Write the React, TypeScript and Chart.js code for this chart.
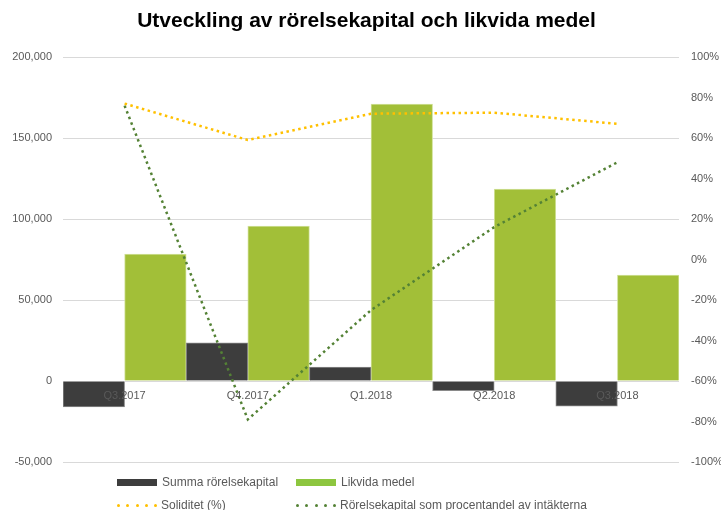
import React, { useEffect, useRef } from "react";
import { Chart, registerables } from "chart.js";

Chart.register(...registerables);

const categories = ["Q3.2017", "Q4.2017", "Q1.2018", "Q2.2018", "Q3.2018"];
const summaRorelsekapital = [-16000, 23500, 8600, -6000, -15500];
const likvidaMedel = [78400, 95700, 171000, 118500, 65400];
const soliditet = [77, 59, 72, 72.5, 67];
const rorelsekapitalProcent = [76, -79, -25, 16, 48];

const leftTicks = { min: -50000, max: 200000, step: 50000 };
const rightTicks = { min: -100, max: 100, step: 20 };

const TITLE = "Utveckling av rörelsekapital och likvida medel";

const DARK = "#3d3d3d";
const GREEN = "#a2bf38";
const YELLOW = "#ffc000";
const DGREEN = "#548235";
const TXT = "#595959";
const FAMILY = "'Liberation Sans', Arial, sans-serif";

const legendItems = [
  { label: "Summa rörelsekapital", color: DARK, kind: "bar", x: 117, y: 482 },
  { label: "Likvida medel", color: "#8dc63f", kind: "bar", x: 296, y: 482 },
  { label: "Soliditet (%)", color: YELLOW, kind: "dot", x: 117, y: 505 },
  { label: "Rörelsekapital som procentandel av intäkterna", color: DGREEN, kind: "dot", x: 296, y: 505 },
];

export default function App() {
  const ref = useRef<HTMLCanvasElement | null>(null);

  useEffect(() => {
    if (!ref.current) return;
    const font = { family: FAMILY, size: 11 };
    const chart = new Chart(ref.current, {
      type: "bar",
      data: {
        labels: categories,
        datasets: [
          {
            type: "bar",
            label: "Summa rörelsekapital",
            data: summaRorelsekapital,
            backgroundColor: DARK,
            borderColor: "#8a8a8a",
            borderWidth: 1,
            yAxisID: "y",
            order: 2,
            barPercentage: 1,
            categoryPercentage: 1,
          },
          {
            type: "bar",
            label: "Likvida medel",
            data: likvidaMedel,
            backgroundColor: GREEN,
            borderColor: "#d2e29c",
            borderWidth: 1,
            yAxisID: "y",
            order: 2,
            barPercentage: 1,
            categoryPercentage: 1,
          },
          {
            type: "line",
            label: "Soliditet (%)",
            data: soliditet,
            borderColor: YELLOW,
            backgroundColor: YELLOW,
            borderWidth: 2.5,
            borderDash: [2.5, 3.5],
            pointRadius: 0,
            fill: false,
            tension: 0,
            yAxisID: "y1",
            order: 0,
          },
          {
            type: "line",
            label: "Rörelsekapital som procentandel av intäkterna",
            data: rorelsekapitalProcent,
            borderColor: DGREEN,
            backgroundColor: DGREEN,
            borderWidth: 2.5,
            borderDash: [2.5, 3.5],
            pointRadius: 0,
            fill: false,
            tension: 0,
            yAxisID: "y1",
            order: 1,
          },
        ],
      },
      options: {
        responsive: false,
        animation: false,
        layout: { padding: { top: 57, bottom: 48, left: 0, right: 0 } },
        plugins: {
          legend: { display: false },
          tooltip: { enabled: false },
          title: { display: false },
        },
        scales: {
          x: {
            position: { y: 0 } as any,
            grid: { display: false, drawTicks: false },
            border: { display: false },
            ticks: { color: TXT, font, padding: 8, maxRotation: 0, z: 1 } as any,
          },
          y: {
            position: "left",
            min: leftTicks.min,
            max: leftTicks.max,
            afterFit: (s: any) => { s.width = 63; },
            grid: { color: "#d9d9d9", lineWidth: 1, drawTicks: false },
            border: { display: false },
            ticks: {
              stepSize: leftTicks.step,
              color: TXT,
              font,
              padding: 11,
              callback: (v: any) => Number(v).toLocaleString("en-US"),
            },
          },
          y1: {
            position: "right",
            min: rightTicks.min,
            max: rightTicks.max,
            afterFit: (s: any) => { s.width = 42; },
            grid: { display: false, drawTicks: false },
            border: { display: false },
            ticks: {
              stepSize: rightTicks.step,
              color: TXT,
              font,
              padding: 12,
              callback: (v: any) => v + "%",
            },
          },
        },
      },
    });
    return () => chart.destroy();
  }, []);

  return (
    <div style={{ position: "fixed", left: 0, top: 0, width: 721, height: 510, background: "#fff", overflow: "hidden" }}>
      <canvas ref={ref} width={721} height={510} style={{ width: 721, height: 510, display: "block" }} />
      <div
        style={{
          position: "absolute",
          left: 6,
          top: 7,
          width: 721,
          height: 26,
          lineHeight: "26px",
          textAlign: "center",
          fontFamily: FAMILY,
          fontSize: 21,
          fontWeight: "bold",
          color: "#000",
          whiteSpace: "nowrap",
        }}
      >
        {TITLE}
      </div>
      {legendItems.map((it) => (
        <div
          key={it.label}
          style={{
            position: "absolute",
            left: it.x,
            top: it.y - 9,
            height: 18,
            display: "flex",
            alignItems: "center",
            fontFamily: FAMILY,
            fontSize: 12,
            color: TXT,
            whiteSpace: "nowrap",
          }}
        >
          {it.kind === "bar" ? (
            <span style={{ display: "inline-block", width: 40, height: 7, background: it.color, marginRight: 5 }} />
          ) : (
            <span style={{ display: "inline-flex", width: 40, justifyContent: "space-between", marginRight: 4 }}>
              {[0, 1, 2, 3, 4].map((i) => (
                <span key={i} style={{ display: "inline-block", width: 3, height: 3, borderRadius: 2, background: it.color }} />
              ))}
            </span>
          )}
          <span>{it.label}</span>
        </div>
      ))}
    </div>
  );
}
